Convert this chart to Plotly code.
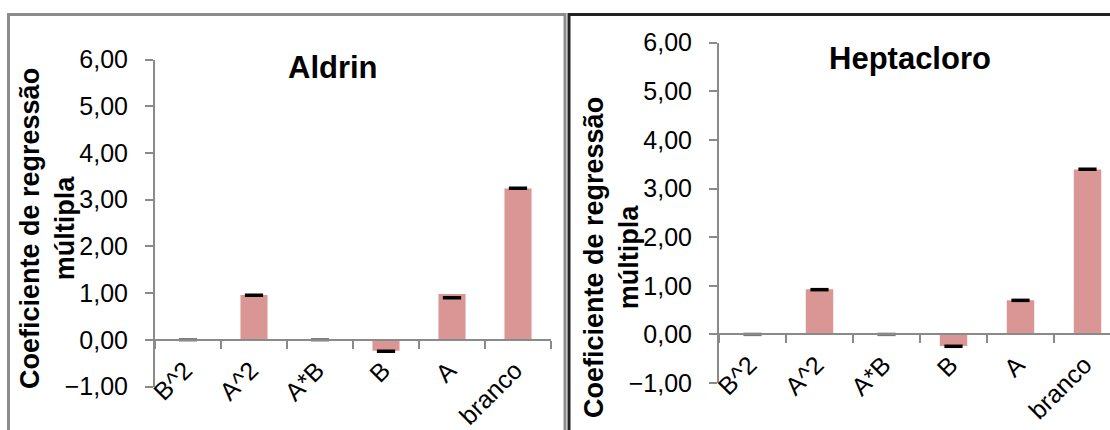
import plotly.graph_objects as go

categories = ["B^2", "A^2", "A*B", "B", "A", "branco"]

aldrin_coef = [0.0, 0.96, 0.0, -0.235, 0.98, 3.24]
aldrin_err = [0.0, 0.955, 0.0, -0.245, 0.90, 3.245]

hepta_coef = [0.0, 0.93, 0.0, -0.24, 0.70, 3.39]
hepta_err = [0.0, 0.92, 0.0, -0.245, 0.70, 3.395]

y_ticks = [-1, 0, 1, 2, 3, 4, 5, 6]

W, H = 1110, 430
BAR = "#D99694"
AX = "#8a8a8a"
FONT = "Liberation Sans, Arial, sans-serif"

fig = go.Figure()

def px(x):
    return x / W

def py(y):
    return (H - y) / H

panels = [
    dict(name="Aldrin", vals=aldrin_coef, err=aldrin_err, xa="x", ya="y",
         xdom=[px(155), px(551)], ydom=[py(386.5), py(59.5)], xrange=[-0.5, 5.5],
         title_xy=(333, 67), ytitle_xy=(47, 229)),
    dict(name="Heptacloro", vals=hepta_coef, err=hepta_err, xa="x2", ya="y2",
         xdom=[px(719), 1.0], ydom=[py(383), py(42.7)], xrange=[-0.5, -0.5 + 391 / 67],
         title_xy=(910, 59), ytitle_xy=(611, 258)),
]

for i, p in enumerate(panels):
    fig.add_trace(go.Bar(x=categories, y=p["vals"], marker_color=BAR, marker_line_width=0,
                         width=0.41, xaxis=p["xa"], yaxis=p["ya"], showlegend=False))
    cols = ["#7a7a7a" if v == 0 else "black" for v in p["vals"]]
    fig.add_trace(go.Scatter(x=categories, y=p["err"], mode="markers",
                             marker=dict(symbol="line-ew", size=13,
                                         line=dict(width=3.5, color=cols)),
                             xaxis=p["xa"], yaxis=p["ya"], showlegend=False))
    sfx = "" if i == 0 else str(i + 1)
    ydom = p["ydom"]
    zero_pos = ydom[0] + (ydom[1] - ydom[0]) * (1 / 7)
    fig.layout["xaxis" + sfx] = dict(
        domain=p["xdom"], range=p["xrange"], anchor="free", position=zero_pos,
        type="category", showline=True, linecolor=AX, linewidth=2,
        ticks="outside", tickson="boundaries", ticklen=8, tickcolor=AX, tickwidth=2,
        tickangle=-45, ticklabelstandoff=5, ticklabelshift=-3,
        tickfont=dict(family=FONT, size=25, color="black"),
        showgrid=False, zeroline=False, fixedrange=True, automargin=False)
    fig.layout["yaxis" + sfx] = dict(
        domain=ydom, range=[-1, 6], anchor=p["xa"], tickvals=y_ticks,
        tickformat=".2f", showline=True, linecolor=AX, linewidth=2,
        ticks="outside", ticklen=8, tickcolor=AX, tickwidth=2,
        ticklabelstandoff=12,
        tickfont=dict(family=FONT, size=25, color="black"),
        showgrid=False, zeroline=False, fixedrange=True, automargin=False)
    fig.add_annotation(text="<b>" + p["name"] + "</b>", xref="paper", yref="paper",
                       x=px(p["title_xy"][0]), y=py(p["title_xy"][1]),
                       xanchor="center", yanchor="middle", showarrow=False,
                       font=dict(family=FONT, size=31, color="black"))
    fig.add_annotation(text="<b>Coeficiente de regressão<br>múltipla</b>", xref="paper", yref="paper",
                       x=px(p["ytitle_xy"][0]), y=py(p["ytitle_xy"][1]),
                       xanchor="center", yanchor="middle", textangle=-90, showarrow=False,
                       font=dict(family=FONT, size=27, color="black"))

fig.add_shape(type="rect", xref="paper", yref="paper", x0=px(8.5), x1=px(565), y0=-0.2, y1=py(14.5),
              line=dict(color="#8c8c8c", width=3), layer="below")
fig.add_shape(type="rect", xref="paper", yref="paper", x0=px(569), x1=1.2, y0=-0.2, y1=py(14.5),
              line=dict(color="#222222", width=3), layer="below")

fig.update_layout(width=W, height=H, margin=dict(l=0, r=0, t=0, b=0, autoexpand=False),
                  paper_bgcolor="white", plot_bgcolor="rgba(0,0,0,0)",
                  separators=",.", bargap=0.59, showlegend=False,
                  font=dict(family=FONT))

fig.write_html("out.html", config={"displayModeBar": False},
               post_script="document.body.style.margin='0px';document.body.style.overflow='hidden';")
